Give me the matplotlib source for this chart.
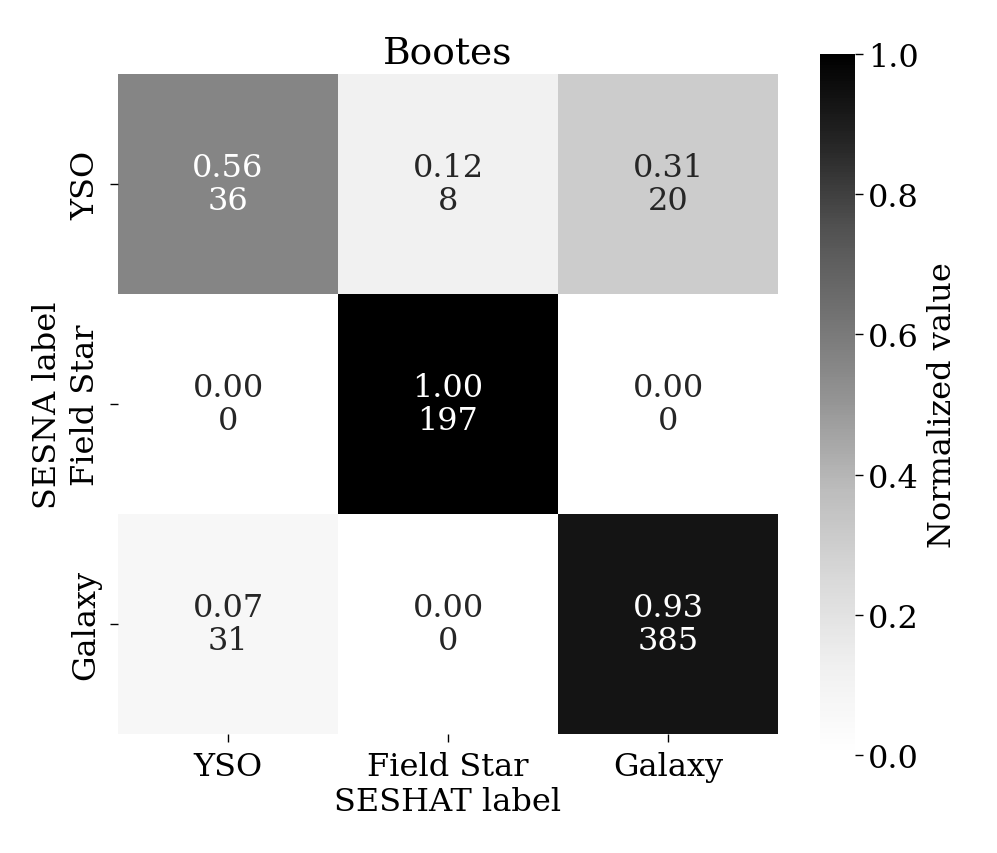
import numpy as np
import matplotlib
matplotlib.use("Agg")
import matplotlib.pyplot as plt

plt.rcParams['font.family'] = ['DejaVu Serif']

title = "Bootes"
x_labels = ["YSO", "Field Star", "Galaxy"]
y_labels = ["YSO", "Field Star", "Galaxy"]
norm_vals = np.array([[0.56, 0.12, 0.31],
                      [0.00, 1.00, 0.00],
                      [0.07, 0.00, 0.93]])
counts = np.array([[36, 8, 20],
                   [0, 197, 0],
                   [31, 0, 385]])

W, H = 997, 854
fig = plt.figure(figsize=(W / 100, H / 100), dpi=100)

def box(l, t, r, b):
    return [l / W, 1 - b / H, (r - l) / W, (b - t) / H]

ax = fig.add_axes(box(118, 75, 778, 735))
cax = fig.add_axes(box(820, 55, 855, 756))

cmap = plt.get_cmap("Greys")
mesh = ax.pcolormesh(norm_vals, cmap=cmap, vmin=0, vmax=1)
ax.set_xlim(0, 3)
ax.set_ylim(3, 0)
for s in ax.spines.values():
    s.set_visible(False)

for i in range(3):
    for j in range(3):
        v = norm_vals[i, j]
        color = "white" if v > 0.45 else ".15"
        ax.text(j + 0.5, i + 0.5, f"{v:.2f}\n{counts[i, j]}",
                ha="center", va="center", fontsize=23, color=color,
                linespacing=1.1)

FS = 23
ax.set_xticks(np.arange(3) + 0.5)
ax.set_yticks(np.arange(3) + 0.5)
ax.set_xticklabels(x_labels, fontsize=FS)
ax.set_yticklabels(y_labels, fontsize=FS, rotation=90, va="center")
ax.tick_params(length=6, width=1, pad=6)
ax.set_xlabel("SESHAT label", fontsize=FS, labelpad=3)
ax.set_ylabel("SESNA label", fontsize=FS, labelpad=5)
ax.set_title(title, fontsize=27, pad=8)

cb = fig.colorbar(mesh, cax=cax)
cb.outline.set_linewidth(0)
cb.set_ticks([0, 0.2, 0.4, 0.6, 0.8, 1.0])
cb.ax.tick_params(labelsize=FS, length=6, width=1)
cb.set_label("Normalized value", fontsize=FS, labelpad=6)

fig.savefig("out.png", dpi=100)
